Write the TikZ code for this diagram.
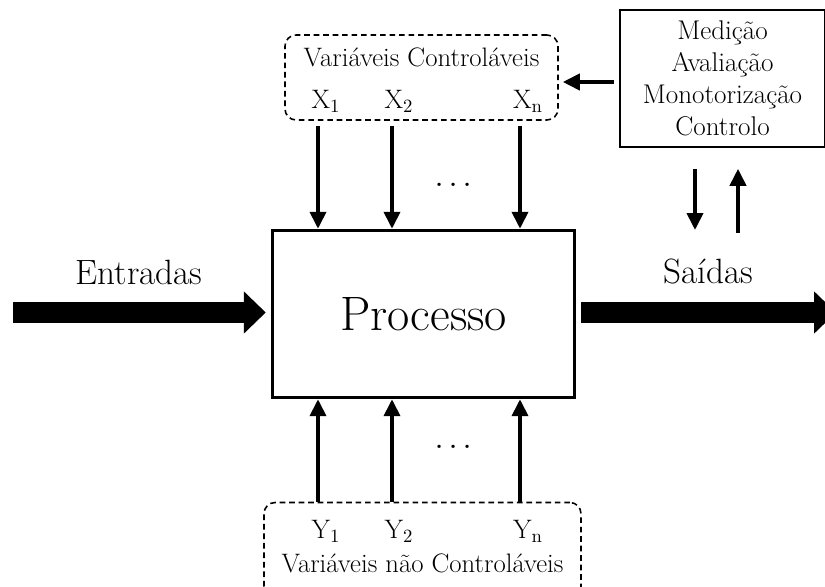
\documentclass[tikz,border=0pt]{standalone}
\usepackage{tikz}
\usetikzlibrary{positioning,arrows.meta}

\begin{document}
\begin{tikzpicture}[x=0.02cm,y=-0.02cm,
    seta/.style={line width=2.2pt,-{Triangle[length=0.34cm,width=0.32cm]}},
    setagrossa/.style={line width=0.42cm,-{Triangle[length=0.44cm,width=0.82cm]}},
    tracejado/.style={draw,dash pattern=on 3.2pt off 2.2pt,rounded corners=0.22cm,line width=0.9pt,inner sep=0pt},
    rotulo/.style={font=\fontsize{15.2}{18}\selectfont,inner sep=1pt},
    grande/.style={font=\fontsize{20}{24}\selectfont},
    pontos/.style={font=\fontsize{23}{26}\selectfont,anchor=base,inner sep=0pt}]
    \useasboundingbox (0,0) rectangle (825,587);

    % processo central
    \node[draw,line width=2pt,minimum width=6.04cm,minimum height=3.34cm,
          font=\fontsize{27.5}{32}\selectfont] (proc) at (423.5,314) {Processo};

    % variaveis controlaveis
    \node[tracejado,minimum width=5.46cm,minimum height=1.7cm] (vc) at (421.5,77.5) {};
    \node[rotulo] (vctxt) at (421.5,57) {Variáveis Controláveis};
    \node[rotulo] (x1) at (326,101) {X\textsubscript{1}};
    \node[rotulo] (x2) at (399,101) {X\textsubscript{2}};
    \node[rotulo] (xn) at (528,101) {X\textsubscript{n}};
    \node[pontos] (dtop) at (453.5,187) {.\hspace{0.1em}.\hspace{0.1em}.};

    % variaveis nao controlaveis
    \node[tracejado,minimum width=6.34cm,minimum height=1.9cm] (vn) at (422.5,550) {};
    \node[rotulo] (y1) at (326,531) {Y\textsubscript{1}};
    \node[rotulo] (y2) at (399,531) {Y\textsubscript{2}};
    \node[rotulo] (yn) at (528,531) {Y\textsubscript{n}};
    \node[rotulo] (vntxt) at (422.5,563) {Variáveis não Controláveis};
    \node[pontos] (dbot) at (453.5,449) {.\hspace{0.1em}.\hspace{0.1em}.};

    % medicao
    \node[draw,line width=0.9pt,minimum width=4.1cm,minimum height=2.74cm,align=center,
          rotulo,font=\fontsize{15.4}{18.3}\selectfont] (med) at (722.5,78.5)
          {Medição\\Avaliação\\Monotorização\\Controlo};

    % entradas e saidas
    \node[grande] (ent) at (139,272) {Entradas};
    \node[grande] (sai) at (708,272) {Saídas};
    \coordinate (ini) at (13,312.5);
    \coordinate (fim) at (836,312.5);
    \draw[setagrossa] (ini) -- ([xshift=-0.1cm]proc.west |- ini);
    \draw[setagrossa] ([xshift=0.1cm]proc.east |- fim) -- (fim);

    % setas verticais
    \foreach \nome/\x in {1/318,2/392,n/520} {
        \coordinate (c\nome) at (\x,0);
        \draw[seta] ([yshift=-0.1cm]vc.south -| c\nome) -- (proc.north -| c\nome);
        \draw[seta] (vn.north -| c\nome) -- (proc.south -| c\nome);
    }

    % realimentacao
    \coordinate (fy) at (0,82);
    \draw[seta] ([xshift=-0.1cm]med.west |- fy) -- ([xshift=0.08cm]vc.east |- fy);
    \coordinate (baixo) at (695,230);
    \coordinate (cima) at (738,233);
    \draw[seta] ([yshift=-0.42cm]med.south -| baixo) -- (baixo);
    \draw[seta] (cima) -- ([yshift=-0.42cm]med.south -| cima);
\end{tikzpicture}
\end{document}
